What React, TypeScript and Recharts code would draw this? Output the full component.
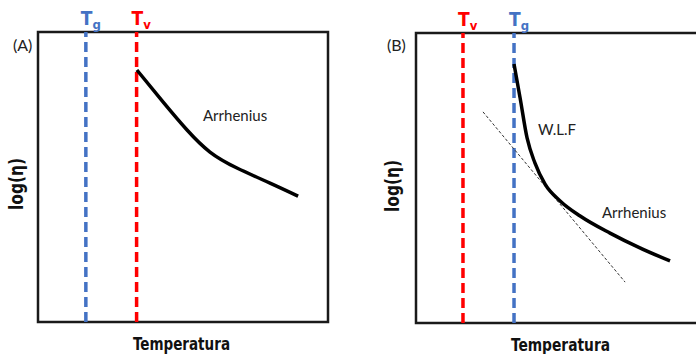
import { LineChart, Line, XAxis, YAxis, ReferenceLine, ReferenceArea } from "recharts";

// panel A: Arrhenius only, Tv above Tg
const tgA = 16.5;
const tvA = 34;
const arrheniusA = [
  { t: 34.1, v: 86.9 },
  { t: 43.1, v: 75.9 },
  { t: 51.4, v: 66.2 },
  { t: 59.3, v: 58.6 },
  { t: 68.6, v: 53.1 },
  { t: 80, v: 47.9 },
  { t: 89.7, v: 43.4 },
];

// panel B: WLF near Tg, Arrhenius above
const tvB = 16.2;
const tgB = 33.8;
const wlfB = [
  { t: 33.8, v: 89.3 },
  { t: 35.9, v: 77.6 },
  { t: 38.3, v: 63.8 },
  { t: 41.0, v: 55.2 },
  { t: 44.5, v: 47.9 },
  { t: 49.7, v: 42.1 },
  { t: 56.6, v: 36.9 },
  { t: 66.9, v: 31.0 },
  { t: 77.2, v: 25.9 },
  { t: 87.6, v: 21.4 },
];
const tangentB = [
  { t: 23.1, v: 72.8 },
  { t: 72.1, v: 14.1 },
];

const BLUE = "#4472C4";
const RED = "#FF0000";
const headFont = "'Liberation Sans Narrow', 'DejaVu Sans Condensed', 'Liberation Sans', sans-serif";
const bodyFont = "Lato, 'Open Sans', sans-serif";

function tempLabel(main: string, sub: string, color: string) {
  return (props: any) => {
    const vb = props.viewBox || {};
    return (
      <text x={vb.x - 5} y={vb.y - 7} fill={color} fontFamily={headFont} fontWeight="bold" fontSize={19}>
        {main}
        <tspan fontSize={13} dy={4}>{sub}</tspan>
      </text>
    );
  };
}

function Panel({
  left,
  width,
  margin,
  first,
  second,
  children,
}: {
  left: number;
  width: number;
  margin: { top: number; right: number; bottom: number; left: number };
  first: { x: number; main: string; sub: string; color: string };
  second: { x: number; main: string; sub: string; color: string };
  children?: any;
}) {
  return (
    <div style={{ position: "absolute", left, top: 0 }}>
      <LineChart width={width} height={354} margin={margin}>
        <XAxis type="number" dataKey="t" domain={[0, 100]} hide allowDataOverflow />
        <YAxis type="number" dataKey="v" domain={[0, 100]} hide allowDataOverflow />
        <ReferenceArea x1={0} x2={100} y1={0} y2={100} fill="none" stroke="#1a1a1a" strokeWidth={2.5} fillOpacity={0} />
        <ReferenceLine x={first.x} stroke={first.color} strokeWidth={3.5} strokeDasharray="10 5" label={tempLabel(first.main, first.sub, first.color)} />
        <ReferenceLine x={second.x} stroke={second.color} strokeWidth={3.5} strokeDasharray="10 5" label={tempLabel(second.main, second.sub, second.color)} />
        {children}
      </LineChart>
    </div>
  );
}

export default function App() {
  return (
    <div style={{ position: "absolute", left: 0, top: 0, width: 696, height: 354, overflow: "hidden", background: "#fff" }}>
      <Panel
        left={0}
        width={348}
        margin={{ top: 32, right: 20, bottom: 32, left: 38 }}
        first={{ x: tgA, main: "T", sub: "g", color: BLUE }}
        second={{ x: tvA, main: "T", sub: "v", color: RED }}
      >
        <Line data={arrheniusA} dataKey="v" type="natural" stroke="#000" strokeWidth={3.5} dot={false} isAnimationActive={false} />
      </Panel>
      <Panel
        left={348}
        width={358}
        margin={{ top: 33, right: 0, bottom: 31, left: 68 }}
        first={{ x: tvB, main: "T", sub: "v", color: RED }}
        second={{ x: tgB, main: "T", sub: "g", color: BLUE }}
      >
        <Line data={tangentB} dataKey="v" type="linear" stroke="#333" strokeWidth={1} strokeDasharray="3 2" dot={false} isAnimationActive={false} />
        <Line data={wlfB} dataKey="v" type="monotone" stroke="#000" strokeWidth={3.5} dot={false} isAnimationActive={false} />
      </Panel>
      <svg width={696} height={354} style={{ position: "absolute", left: 0, top: 0, pointerEvents: "none" }}>
        <text x={13} y={51} fontFamily={bodyFont} fontSize={16} fill="#222">(A)</text>
        <text x={387} y={51} fontFamily={bodyFont} fontSize={16} fill="#222">(B)</text>
        <text x={203} y={121} fontFamily={bodyFont} fontSize={15} fill="#222">Arrhenius</text>
        <text x={538} y={135} fontFamily={bodyFont} fontSize={15} fill="#222">W.L.F</text>
        <text x={602} y={218} fontFamily={bodyFont} fontSize={15} fill="#222">Arrhenius</text>
        <text x={133} y={350} textLength={97} lengthAdjust="spacingAndGlyphs" fontFamily={headFont} fontWeight="bold" fontSize={18} fill="#111">Temperatura</text>
        <text x={511} y={351} textLength={99} lengthAdjust="spacingAndGlyphs" fontFamily={headFont} fontWeight="bold" fontSize={18} fill="#111">Temperatura</text>
        <text transform="translate(23,210) rotate(-90)" textLength={52} lengthAdjust="spacingAndGlyphs" fontFamily={headFont} fontWeight="bold" fontSize={19} fill="#111">log(η)</text>
        <text transform="translate(399,212) rotate(-90)" textLength={52} lengthAdjust="spacingAndGlyphs" fontFamily={headFont} fontWeight="bold" fontSize={19} fill="#111">log(η)</text>
      </svg>
    </div>
  );
}
